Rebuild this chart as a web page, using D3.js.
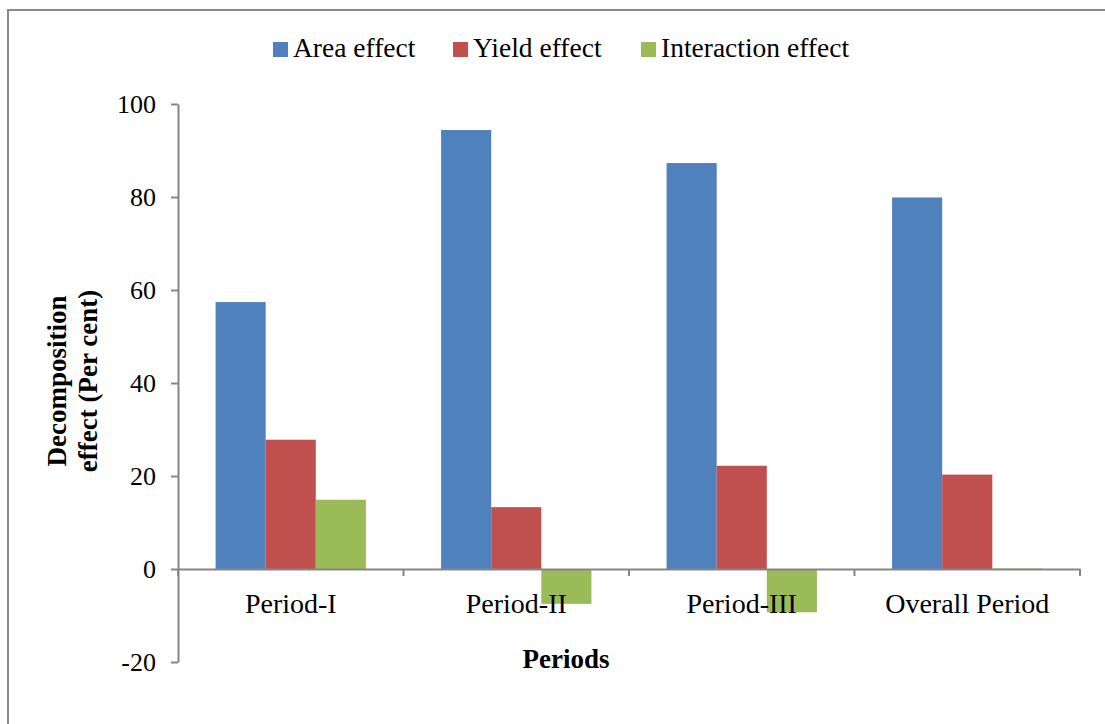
<!DOCTYPE html>
<html>
<head>
<meta charset="utf-8">
<title>Decomposition effect</title>
<style>
  body { margin: 0; background: #fff; }
  text { font-family: "Liberation Serif", "Times New Roman", serif; fill: #000; }
</style>
</head>
<body>
<script src="https://cdn.jsdelivr.net/npm/d3@7"></script>
<script>
// data
var periods = ["Period-I", "Period-II", "Period-III", "Overall Period"];
var seriesNames = ["Area effect", "Yield effect", "Interaction effect"];
var areaEffect = [57.4, 94.4, 87.3, 79.9];
var yieldEffect = [27.8, 13.3, 22.2, 20.3];
var interactionEffect = [14.9, -7.5, -9.3, 0.1];
var yTicks = [-20, 0, 20, 40, 60, 80, 100];
var colors = ["#4F81BD", "#C0504D", "#9BBB59"];

var W = 1105, H = 724;
var plotLeft = 178, plotRight = 1080, plotTop = 104, plotBottom = 662;

var svg = d3.select("body").append("svg")
    .attr("width", W).attr("height", H);

// outer frame
svg.append("rect")
    .attr("x", 8).attr("y", 10).attr("width", 1200).attr("height", 800)
    .attr("fill", "none").attr("stroke", "#898989").attr("stroke-width", 2);

var y = d3.scaleLinear().domain([-20, 100]).range([plotBottom, plotTop]);
var x0 = d3.scaleBand().domain(periods).range([plotLeft, plotRight]).paddingInner(0).paddingOuter(0);
var x1 = d3.scaleBand().domain(seriesNames).range([0, x0.bandwidth()]).paddingInner(0).paddingOuter(0.75);

var rows = periods.map(function (p, i) {
    return { period: p, values: [areaEffect[i], yieldEffect[i], interactionEffect[i]] };
});

// bars
var g = svg.selectAll("g.grp").data(rows).enter().append("g")
    .attr("class", "grp")
    .attr("transform", function (d) { return "translate(" + x0(d.period) + ",0)"; });

g.selectAll("rect").data(function (d) { return d.values; }).enter().append("rect")
    .attr("x", function (d, j) { return x1(seriesNames[j]); })
    .attr("width", x1.bandwidth())
    .attr("y", function (d) { return y(Math.max(0, d)); })
    .attr("height", function (d) { return Math.abs(y(d) - y(0)); })
    .attr("fill", function (d, j) { return colors[j]; });

// y axis
var yAxis = svg.append("g")
    .attr("transform", "translate(" + plotLeft + ",0)")
    .call(d3.axisLeft(y).tickValues(yTicks).tickFormat(function (d) { return String(d); })
        .tickSize(7).tickSizeOuter(0).tickPadding(15));
yAxis.select(".domain").attr("stroke", "#868686").attr("stroke-width", 2);
yAxis.selectAll(".tick line").attr("stroke", "#868686").attr("stroke-width", 2);
yAxis.selectAll(".tick text")
    .style("font-family", "'Liberation Serif', serif").style("font-size", "26px").attr("fill", "#000");

// x axis at zero
var xAxis = svg.append("g")
    .attr("transform", "translate(0," + y(0) + ")")
    .call(d3.axisBottom(x0).tickSize(0).tickPadding(24));
xAxis.select(".domain").attr("stroke", "#868686").attr("stroke-width", 2);
xAxis.selectAll(".tick text")
    .style("font-family", "'Liberation Serif', serif").style("font-size", "28px").attr("fill", "#000");

// category separator ticks
var sep = periods.map(function (p) { return x0(p); }).concat([plotRight]);
xAxis.selectAll("line.sep").data(sep).enter().append("line")
    .attr("class", "sep")
    .attr("x1", function (d) { return d; }).attr("x2", function (d) { return d; })
    .attr("y1", 0).attr("y2", 7)
    .attr("stroke", "#868686").attr("stroke-width", 2);

// axis titles
svg.append("text")
    .attr("x", 566).attr("y", 668)
    .attr("text-anchor", "middle")
    .style("font-size", "27px").style("font-weight", "bold")
    .text("Periods");

var yt = svg.append("text")
    .attr("transform", "translate(66,381) rotate(-90)")
    .attr("text-anchor", "middle")
    .style("font-size", "27px").style("font-weight", "bold");
yt.append("tspan").attr("x", 0).attr("y", 0).text("Decomposition");
yt.append("tspan").attr("x", 0).attr("y", 31).text("effect (Per cent)");

// legend
var legendX = [273, 453, 641];
var lg = svg.selectAll("g.leg").data(seriesNames).enter().append("g")
    .attr("class", "leg")
    .attr("transform", function (d, i) { return "translate(" + legendX[i] + ",42)"; });
lg.append("rect").attr("width", 15).attr("height", 15)
    .attr("fill", function (d, i) { return colors[i]; });
lg.append("text").attr("x", 20).attr("y", 15)
    .style("font-size", "27.5px")
    .text(function (d) { return d; });
</script>
</body>
</html>
